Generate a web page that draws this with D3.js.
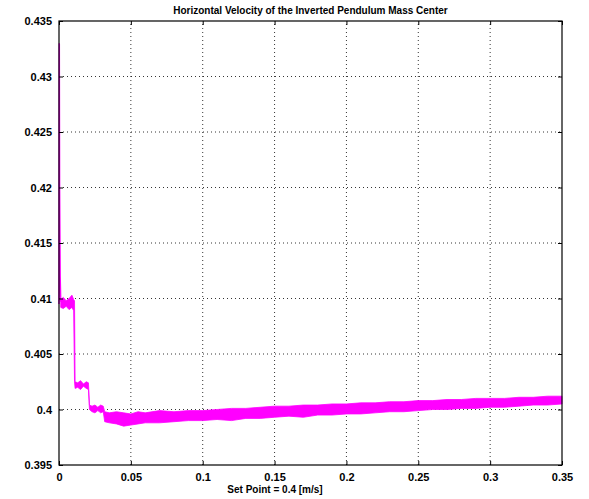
<!DOCTYPE html>
<html lang="en">
<head>
<meta charset="UTF-8">
<title>Horizontal Velocity</title>
<style>
    body { margin: 0; background: #fff; }
    svg { font-family: "Liberation Sans", Arial, sans-serif; }
    .tick text { font-size: 11px; font-weight: bold; fill: #000; }
</style>
</head>
<body>
<script src="https://cdnjs.cloudflare.com/ajax/libs/d3/7.8.5/d3.min.js"></script>
<script>
const width = 589, height = 499;
const margin = {left: 59, right: 27, top: 21, bottom: 34};

const xTicks = [0, 0.05, 0.1, 0.15, 0.2, 0.25, 0.3, 0.35];
const yTicks = [0.395, 0.4, 0.405, 0.41, 0.415, 0.42, 0.425, 0.43, 0.435];

// initial spike + steps
const spikeT = [0, 0.0002, 0.0004, 0.0008, 0.0012];
const spikeV = [0.4095, 0.433, 0.42, 0.412, 0.4097];

// noisy band: time, lower edge, upper edge
const bandT  = [0.0012, 0.003, 0.005, 0.007, 0.009, 0.0102, 0.0108, 0.0112, 0.013, 0.015, 0.017, 0.019, 0.0205, 0.0212,
                0.023, 0.025, 0.027, 0.029, 0.0308, 0.0318, 0.035, 0.04, 0.045, 0.05, 0.055, 0.06, 0.07, 0.08, 0.09,
                0.1, 0.11, 0.12, 0.13, 0.14, 0.15, 0.16, 0.17, 0.18, 0.19, 0.2, 0.21, 0.22, 0.23, 0.24, 0.25,
                0.26, 0.27, 0.28, 0.29, 0.3, 0.31, 0.32, 0.33, 0.34, 0.35];
const bandLo = [0.4092, 0.4091, 0.4093, 0.4090, 0.4092, 0.4089, 0.4025, 0.4019, 0.4020, 0.4018, 0.4021, 0.4019, 0.4018, 0.4000,
                0.3998, 0.3997, 0.3999, 0.3997, 0.3998, 0.3989, 0.3988, 0.3987, 0.3985, 0.3986, 0.3987, 0.3988, 0.3988, 0.3989, 0.3990,
                0.3990, 0.3991, 0.3990, 0.3992, 0.3992, 0.3993, 0.3994, 0.3993, 0.3995, 0.3995, 0.3996, 0.3996, 0.3997, 0.3998, 0.3998, 0.3999,
                0.4000, 0.4000, 0.4001, 0.4001, 0.4002, 0.4002, 0.4003, 0.4004, 0.4004, 0.4005];
const bandHi = [0.4099, 0.4101, 0.4098, 0.4100, 0.4103, 0.4099, 0.4098, 0.4025, 0.4024, 0.4026, 0.4023, 0.4025, 0.4024, 0.4004,
                0.4003, 0.4004, 0.4002, 0.4004, 0.4003, 0.3998, 0.3997, 0.3998, 0.3997, 0.3996, 0.3998, 0.3997, 0.3999, 0.3998, 0.3999,
                0.3999, 0.4000, 0.4001, 0.4001, 0.4002, 0.4003, 0.4003, 0.4004, 0.4004, 0.4005, 0.4005, 0.4006, 0.4006, 0.4007, 0.4007, 0.4008,
                0.4008, 0.4009, 0.4009, 0.4010, 0.4010, 0.4010, 0.4011, 0.4011, 0.4012, 0.4012];

const svg = d3.select("body").append("svg").attr("width", width).attr("height", height);

const x = d3.scaleLinear().domain([0, 0.35]).range([margin.left, width - margin.right]);
const y = d3.scaleLinear().domain([0.395, 0.435]).range([height - margin.bottom, margin.top]);

// grid
svg.append("g").selectAll("line").data(xTicks.slice(1, -1)).join("line")
    .attr("x1", d => x(d)).attr("x2", d => x(d)).attr("y1", y(0.395)).attr("y2", y(0.435))
    .attr("stroke", "#000").attr("stroke-width", 0.8).attr("stroke-dasharray", "1,3");
svg.append("g").selectAll("line").data(yTicks.slice(1, -1)).join("line")
    .attr("y1", d => y(d)).attr("y2", d => y(d)).attr("x1", x(0)).attr("x2", x(0.35))
    .attr("stroke", "#000").attr("stroke-width", 0.8).attr("stroke-dasharray", "1,3");

// data
const band = bandT.map((t, i) => ({t, lo: bandLo[i], hi: bandHi[i]}));
svg.append("path").datum(band)
    .attr("d", d3.area().x(d => x(d.t)).y0(d => y(d.lo)).y1(d => y(d.hi)))
    .attr("fill", "#ff00ff").attr("stroke", "#ff00ff").attr("stroke-width", 0.8);
svg.append("path").datum(spikeT.map((t, i) => [t, spikeV[i]]))
    .attr("d", d3.line().x(d => x(d[0])).y(d => y(d[1])))
    .attr("fill", "none").attr("stroke", "#ff00ff").attr("stroke-width", 1.5);

// axes
const fmt = d => String(+d.toFixed(3));
svg.append("g").attr("transform", `translate(0,${y(0.395)})`)
    .call(d3.axisBottom(x).tickValues(xTicks).tickFormat(fmt).tickSize(-4).tickPadding(8))
    .call(g => g.select(".domain").remove());
svg.append("g").attr("transform", `translate(${x(0)},0)`)
    .call(d3.axisLeft(y).tickValues(yTicks).tickFormat(fmt).tickSize(-4).tickPadding(7))
    .call(g => g.select(".domain").remove());
svg.append("g").attr("transform", `translate(${x(0.35)},0)`)
    .call(d3.axisRight(y).tickValues(yTicks).tickFormat("").tickSize(-4))
    .call(g => g.select(".domain").remove());
svg.append("g").attr("transform", `translate(0,${y(0.435)})`)
    .call(d3.axisTop(x).tickValues(xTicks).tickFormat("").tickSize(-4))
    .call(g => g.select(".domain").remove());
svg.append("rect").attr("x", x(0)).attr("y", y(0.435))
    .attr("width", x(0.35) - x(0)).attr("height", y(0.395) - y(0.435))
    .attr("fill", "none").attr("stroke", "#000").attr("stroke-width", 1.2);

svg.append("text").attr("x", (x(0) + x(0.35)) / 2).attr("y", 14)
    .attr("text-anchor", "middle").attr("font-size", 10).attr("font-weight", "bold")
    .text("Horizontal Velocity of the Inverted Pendulum Mass Center");
svg.append("text").attr("x", 275).attr("y", 493)
    .attr("text-anchor", "middle").attr("font-size", 10).attr("font-weight", "bold")
    .text("Set Point = 0.4 [m/s]");
</script>
</body>
</html>
